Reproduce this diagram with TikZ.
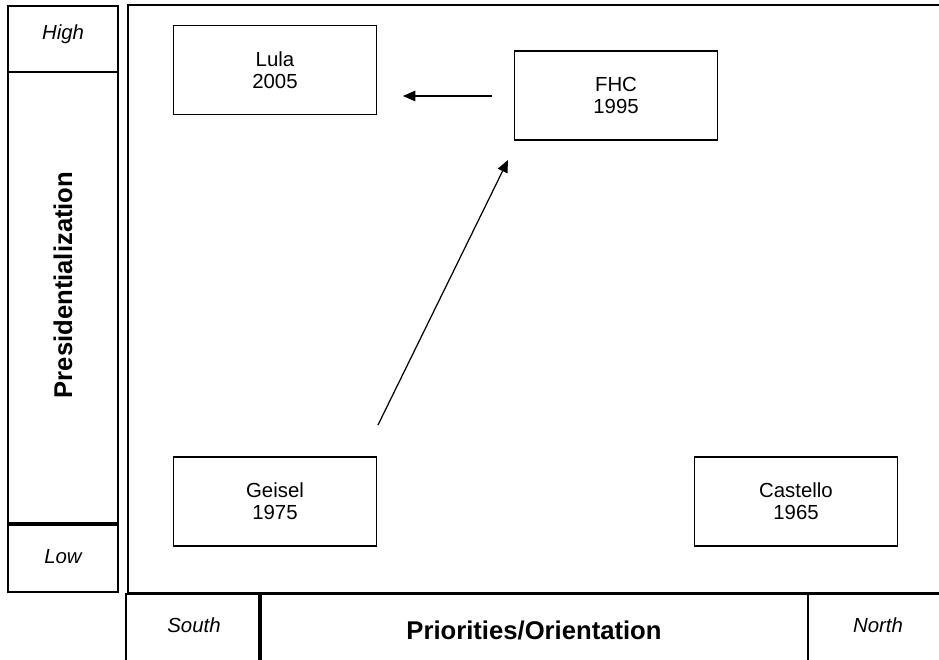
\documentclass[tikz,border=0pt]{standalone}
\usepackage{fontspec}
\setmainfont{Liberation Sans}
\usetikzlibrary{positioning}
\usetikzlibrary{arrows.meta}
\tikzset{>={Triangle[length=7pt,width=6pt]}}
\tikzset{
  box/.style={draw, line width=0.7pt, minimum width=4.06cm, minimum height=1.78cm, inner sep=0pt, align=center, font=\fontsize{11.6}{12.5}\selectfont},
  sidebox/.style={draw, line width=0.7pt, minimum width=2.2cm, inner sep=0pt},
  axisbox/.style={draw, line width=0.7pt, minimum height=1.34cm, inner sep=0pt},
  axislabel/.style={inner sep=0pt, font=\fontsize{11.6}{13}\selectfont\itshape},
  axistitle/.style={inner sep=0pt, font=\fontsize{14.6}{16}\selectfont\bfseries}
}

\begin{document}
\begin{tikzpicture}[x=0.02cm, y=-0.02cm]
    \useasboundingbox (0,0) rectangle (939,659);
    \clip (0,0) rectangle (939,659);

    % outer frame of the chart
    \draw [line width=0.8pt] (950,5) -| (128,593) -- (950,593);

    % vertical axis
    \node (high) [sidebox, minimum height=1.32cm] at (63,39) {};
    \node (hightext) [axislabel] at (63,34) {High};
    \node (pres) [sidebox, rotate=90, minimum width=9.02cm, minimum height=2.2cm] at (63,297.5) {};
    \node (prestext) [axistitle, rotate=90] at (63,285) {Presidentialization};
    \node (low) [sidebox, minimum height=1.34cm] at (63,558.5) {};
    \node (lowtext) [axislabel] at (63,557) {Low};

    % horizontal axis
    \node (south) [axisbox, minimum width=2.66cm] at (192.5,627.5) {};
    \node (southtext) [axislabel] at (194,625) {South};
    \node (prio) [axisbox, minimum width=10.94cm] at (534.5,627.5) {};
    \node (priotext) [axistitle] at (534,630) {Priorities/Orientation};
    \node (north) [axisbox, minimum width=2.74cm] at (876.5,627.5) {};
    \node (northtext) [axislabel] at (878,625) {North};

    % presidents
    \node (lula) [box] at (275,70) {Lula\\2005};
    \node (fhc) [box] at (616,95.5) {FHC\\1995};
    \node (geisel) [box] at (275,501.5) {Geisel\\1975};
    \node (castello) [box] at (796,501.5) {Castello\\1965};

    \coordinate (fhcout) at (492,96);
    \coordinate (lulain) at (403,96);
    \coordinate (geiselout) at (378,425);
    \coordinate (fhcin) at (508,160);

    \path [draw, line width=0.7pt, ->] (fhcout) -- (lulain);
    \path [draw, line width=0.7pt, ->] (geiselout) -- (fhcin);
\end{tikzpicture}
\end{document}
